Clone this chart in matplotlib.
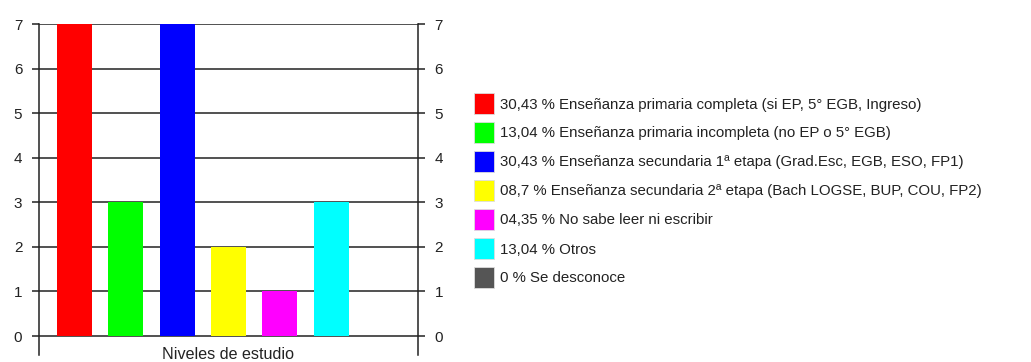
import numpy as np
import matplotlib.pyplot as plt
from matplotlib.patches import Rectangle

plt.rcParams['font.family'] = ['Liberation Sans', 'DejaVu Sans']

categories = [
    "Enseñanza primaria completa (si EP, 5° EGB, Ingreso)",
    "Enseñanza primaria incompleta (no EP o 5° EGB)",
    "Enseñanza secundaria 1ª etapa (Grad.Esc, EGB, ESO, FP1)",
    "Enseñanza secundaria 2ª etapa (Bach LOGSE, BUP, COU, FP2)",
    "No sabe leer ni escribir",
    "Otros",
    "Se desconoce",
]
counts = [7, 3, 7, 2, 1, 3, 0]
percent_labels = ["30,43", "13,04", "30,43", "08,7", "04,35", "13,04", "0"]
colors = ["#ff0000", "#00ff00", "#0000ff", "#ffff00", "#ff00ff", "#00ffff", "#555555"]
y_ticks = list(range(0, 8))
x_title = "Niveles de estudio"

W, H = 1031, 362
fig = plt.figure(figsize=(W / 100, H / 100), dpi=100)
ax = fig.add_axes([39 / W, 1 - 355 / H, (418 - 39) / W, (355 - 24) / H])

x = np.arange(len(categories))
ax.bar(x, counts, width=0.68, color=colors, zorder=3)
ax.set_xlim(-0.69, len(categories) - 0.31)
ax.set_ylim(-0.426, 7)

line_col = "#222222"
for v in y_ticks:
    ax.axhline(v, color=line_col, lw=1.1, zorder=2)

ax.set_yticks(y_ticks)
ax.set_xticks([])
ax.tick_params(axis='y', left=True, right=True, labelleft=True, labelright=True,
               length=5, width=1.1, color=line_col, direction='out', pad=7,
               labelsize=11, labelcolor="#222222")
for side in ("top", "bottom"):
    ax.spines[side].set_visible(False)
for side in ("left", "right"):
    ax.spines[side].set_color(line_col)
    ax.spines[side].set_linewidth(1.1)

fig.text((39 + 418) / 2 / W, 1 - 359 / H, x_title, ha='center', va='baseline',
         fontsize=11.6, color="#222222")

# legend: colour swatch + "percentage % category" per row
row0, row_step = 103, 29
for i, (c, p, cat) in enumerate(zip(colors, percent_labels, categories)):
    yc = row0 + i * row_step
    fig.add_artist(Rectangle((474 / W, 1 - (yc + 10.5) / H), 20 / W, 21 / H,
                             transform=fig.transFigure, facecolor=c,
                             edgecolor='#dddddd', linewidth=0.6))
    fig.text(500 / W, 1 - yc / H, f"{p} % {cat}", ha='left', va='center_baseline',
             fontsize=10.8, color="#222222")

fig.savefig("out.png", dpi=100)
